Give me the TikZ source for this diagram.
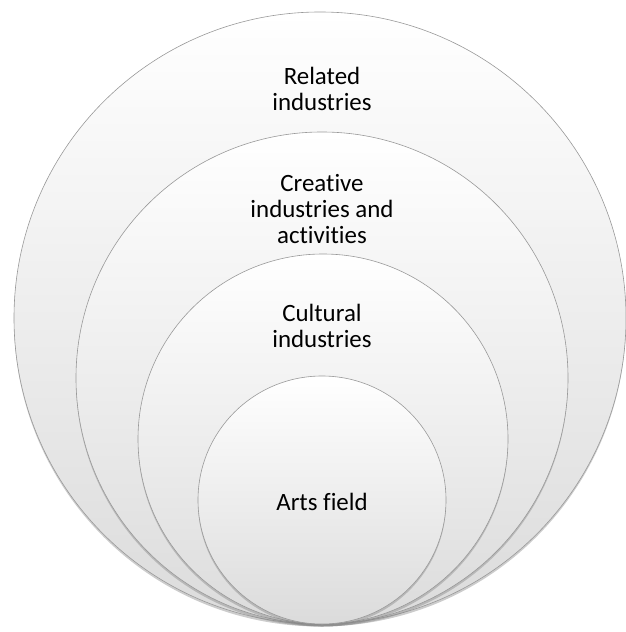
\documentclass[tikz,border=0pt]{standalone}
\usepackage{fontspec}
\setmainfont{Carlito}[RawFeature={-liga,-clig,-dlig}]
\usetikzlibrary{positioning, shadows}

\begin{document}
\begin{tikzpicture}[x=1bp, y=-1bp]
		\tikzstyle{Ring} = [circle, inner sep=0pt, draw=black!40, line width=0.6pt, top color=white, bottom color=black!14, drop shadow={shadow xshift=0bp, shadow yshift=-2.5bp, opacity=0.4}]
		\tikzstyle{Label} = [text centered, align=center, font=\fontsize{25}{26.5}\selectfont]
		
		\useasboundingbox (0,0) rectangle (626,632);
		
		\node (ring1) [Ring, minimum size=612bp] at (320,318) {};
		\node (ring2) [Ring, minimum size=492bp] at (322,378) {};
		\node (ring3) [Ring, minimum size=370bp] at (323,439) {};
		\node (ring4) [Ring, minimum size=248bp] at (322,500) {};
		
		\node (related) [Label] at (322,89) {Related\\industries};
		\node (creative) [Label] at (322,209) {Creative\\industries and\\activities};
		\node (cultural) [Label] at (322,326) {Cultural\\industries};
		\node (arts) [Label] at (322,502) {Arts field};
		
		\end{tikzpicture}
\end{document}
